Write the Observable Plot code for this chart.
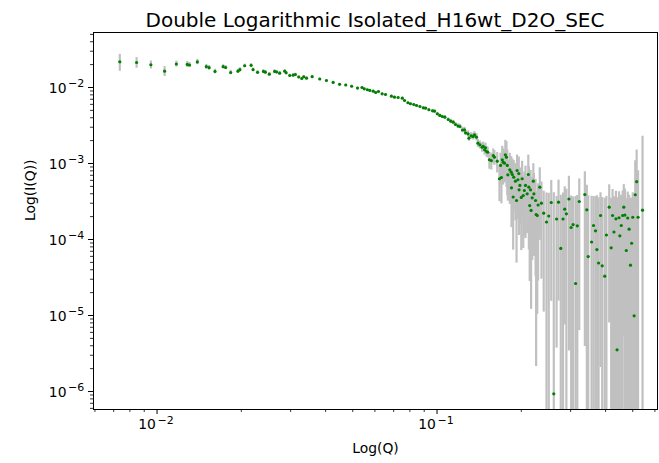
<!DOCTYPE html>
<html><head><meta charset="utf-8">
<script src="https://cdn.jsdelivr.net/npm/d3@7"></script>
<script src="https://cdn.jsdelivr.net/npm/@observablehq/plot@0.6"></script>
<style>
body{margin:0;background:#fff;}
#wrap{position:relative;width:659px;height:463px;font-family:"DejaVu Sans";}
#title{position:absolute;left:93px;width:564px;top:8px;text-align:center;font-size:20px;line-height:24px;color:#000;white-space:nowrap;}
#wrap svg{position:absolute;left:0;top:0;}
</style></head><body>
<div id="wrap"><div id="title"></div></div>
<script>
const titleText = "Double Logarithmic Isolated_H16wt_D2O_SEC";
const xLabel = "Log(Q)";
const yLabel = "Log(I(Q))";

// log10(Q) of each point
const logQ = [
-2.133,-2.073,-2.022,-1.973,-1.931,-1.892,-1.884,-1.856,-1.824,-1.814,
-1.793,-1.764,-1.755,-1.737,-1.711,-1.704,-1.687,-1.664,-1.657,-1.641,
-1.620,-1.613,-1.599,-1.580,-1.573,-1.562,-1.544,-1.539,-1.526,-1.514,
-1.506,-1.494,-1.483,-1.476,-1.466,-1.446,-1.419,-1.395,-1.371,-1.348,
-1.326,-1.305,-1.284,-1.268,-1.260,-1.249,-1.240,-1.228,-1.219,-1.209,
-1.196,-1.184,-1.163,-1.152,-1.139,-1.124,-1.116,-1.104,-1.095,-1.083,
-1.073,-1.061,-1.049,-1.041,-1.029,-1.016,-1.009,-0.999,-0.990,-0.981,
-0.972,-0.960,-0.951,-0.942,-0.934,-0.925,-0.918,-0.909,-0.902,-0.898,
-0.889,-0.886,-0.878,-0.871,-0.866,-0.859,-0.854,-0.847,-0.839,-0.835,
-0.830,-0.827,-0.823,-0.819,-0.813,-0.806,-0.799,-0.795,-0.785,-0.777,
-0.773,-0.770,-0.767,-0.764,-0.759,-0.756,-0.752,-0.749,-0.747,-0.740,
-0.735,-0.734,-0.731,-0.728,-0.726,-0.720,-0.716,-0.714,-0.711,-0.708,
-0.707,-0.704,-0.699,-0.696,-0.692,-0.688,-0.684,-0.678,-0.674,-0.672,
-0.669,-0.666,-0.664,-0.660,-0.656,-0.654,-0.648,-0.646,-0.642,-0.639,
-0.633,-0.627,-0.619,-0.609,-0.601,-0.592,-0.583,-0.573,-0.566,-0.558,
-0.550,-0.544,-0.538,-0.529,-0.521,-0.514,-0.505,-0.499,-0.492,-0.472,
-0.465,-0.460,-0.448,-0.441,-0.434,-0.429,-0.423,-0.416,-0.410,-0.401,
-0.395,-0.385,-0.378,-0.373,-0.368,-0.361,-0.357,-0.350,-0.347,-0.342,
-0.337,-0.333,-0.329,-0.324,-0.319,-0.314,-0.309,-0.305,-0.301,-0.296,
-0.292,-0.287,-0.282,-0.266];

// log10(I) of each point
const logI = [
-1.662,-1.671,-1.701,-1.786,-1.691,-1.697,-1.704,-1.664,-1.726,-1.739,
-1.789,-1.726,-1.737,-1.803,-1.786,-1.766,-1.714,-1.708,-1.766,-1.800,
-1.789,-1.799,-1.825,-1.789,-1.796,-1.812,-1.786,-1.807,-1.842,-1.838,
-1.829,-1.862,-1.882,-1.859,-1.878,-1.858,-1.888,-1.908,-1.934,-1.958,
-1.967,-1.984,-2.008,-2.000,-2.017,-2.030,-2.039,-2.049,-2.066,-2.053,
-2.083,-2.092,-2.114,-2.128,-2.132,-2.141,-2.171,-2.201,-2.214,-2.224,
-2.237,-2.250,-2.267,-2.272,-2.293,-2.307,-2.312,-2.346,-2.368,-2.382,
-2.391,-2.421,-2.443,-2.457,-2.487,-2.507,-2.513,-2.559,-2.557,-2.596,
-2.609,-2.667,-2.636,-2.645,-2.622,-2.654,-2.733,-2.754,-2.786,-2.776,
-2.820,-2.793,-2.842,-2.851,-2.951,-2.961,-2.895,-2.917,-2.970,-3.201,
-3.026,-3.184,-2.951,-2.983,-2.996,-2.886,-2.917,-3.026,-3.149,-3.083,
-3.114,-3.320,-3.145,-3.441,-3.180,-3.233,-3.487,-3.092,-3.214,-3.132,
-3.346,-3.289,-3.447,-3.201,-3.421,-3.355,-3.289,-3.399,-3.145,-3.312,
-3.553,-3.346,-3.618,-3.451,-3.233,-3.399,-3.487,-3.671,-3.684,-3.546,
-3.312,-3.522,-3.654,-3.770,-3.691,-3.513,-6.030,-3.730,-3.509,-4.118,
-3.730,-3.601,-3.662,-3.467,-3.842,-3.803,-4.579,-3.820,-3.500,-3.408,
-3.609,-4.224,-4.033,-3.816,-3.886,-4.132,-4.309,-3.684,-4.346,-4.483,
-3.941,-3.575,-4.109,-3.684,-3.901,-3.728,-5.451,-3.714,-3.951,-3.816,
-3.684,-3.575,-3.678,-4.145,-3.717,-3.864,-4.338,-4.049,-3.707,-5.004,
-3.411,-3.239,-3.707,-3.614];

// error sigma relative to I
const relErr = [
0.25,0.16,0.12,0.15,0.09,0.09,0.08,0.08,0.07,0.07,
0.07,0.06,0.06,0.07,0.06,0.06,0.05,0.05,0.05,0.05,
0.05,0.05,0.05,0.05,0.05,0.05,0.04,0.04,0.04,0.04,
0.04,0.04,0.04,0.04,0.04,0.03,0.03,0.03,0.03,0.03,
0.03,0.03,0.03,0.03,0.03,0.03,0.03,0.03,0.03,0.03,
0.03,0.03,0.03,0.03,0.03,0.03,0.03,0.03,0.03,0.03,
0.03,0.03,0.03,0.03,0.04,0.04,0.04,0.04,0.04,0.04,
0.05,0.05,0.06,0.06,0.06,0.07,0.07,0.08,0.08,0.08,
0.09,0.09,0.10,0.10,0.10,0.11,0.12,0.12,0.14,0.14,
0.15,0.15,0.16,0.16,0.25,0.25,0.22,0.22,0.30,0.50,
0.45,0.55,0.50,0.50,0.45,0.55,0.60,0.60,0.55,0.65,
0.60,0.70,0.60,0.80,0.65,0.70,0.85,0.60,0.70,0.65,
0.75,0.70,0.80,0.70,0.80,0.75,0.80,0.70,0.80,0.85,
0.90,0.80,0.95,0.85,0.70,0.85,0.90,0.99,0.95,0.90,
0.80,0.90,0.95,1.4,1.0,0.95,440,0.98,0.95,4.0,
1.2,0.97,1.1,0.99,1.6,1.3,13,1.5,0.98,0.99,
1.1,5.3,3.0,1.4,1.8,4.1,6.2,0.99,6.9,9.6,
2.2,0.97,3.5,1.2,1.9,1.3,99,1.2,2.3,1.5,
1.1,0.98,1.2,3.8,1.2,1.8,6.6,2.9,1.1,35,
1.8,1.6,3.1,8.4];

const xMajor = [0.01, 0.1];
const xExp = ["\u22122", "\u22121"];
const yMajor = [1e-2, 1e-3, 1e-4, 1e-5, 1e-6];
const yExp = ["\u22122", "\u22123", "\u22124", "\u22125", "\u22126"];
const xDomain = [0.00593, 0.613];
const yDomain = [5.8e-7, 0.0529];

const data = logQ.map((lq, i) => {
  const q = Math.pow(10, lq), I = Math.pow(10, logI[i]), s = relErr[i] * I;
  return {q, I, hi: I + s, lo: I - s > 0 ? I - s : 1e-12};
});

function minorTicks(e0, e1, dom) {
  const out = [];
  for (let e = e0; e <= e1; e++) for (let k = 2; k <= 9; k++) {
    const v = k * Math.pow(10, e);
    if (v >= dom[0] && v <= dom[1]) out.push(v);
  }
  return out;
}
const xMinor = minorTicks(-3, -1, xDomain);
const yMinor = minorTicks(-7, -2, yDomain);

document.getElementById("title").textContent = titleText;

const chart = Plot.plot({
  width: 659, height: 463,
  marginLeft: 93, marginRight: 2, marginTop: 32, marginBottom: 54,
  style: {fontFamily: "DejaVu Sans", fontSize: "13.9px", background: "transparent", color: "black"},
  x: {type: "log", domain: xDomain},
  y: {type: "log", domain: yDomain},
  marks: [
    Plot.ruleX(data, {x: "q", y1: "lo", y2: "hi", stroke: "#c0c0c0", strokeWidth: 2.2, clip: true}),
    Plot.dot(data, {x: "q", y: "I", r: 1.6, fill: "#008000", stroke: null, clip: true}),
    Plot.frame({stroke: "black", strokeWidth: 1}),
    Plot.axisX(xMinor, {tickSize: 3, tickFormat: () => "", label: null, strokeWidth: 0.8}),
    Plot.axisX(xMajor, {tickSize: 5, tickFormat: () => "", label: null}),
    Plot.axisY(yMinor, {tickSize: 3, tickFormat: () => "", label: null, strokeWidth: 0.8}),
    Plot.axisY(yMajor, {tickSize: 5, tickFormat: () => "", label: null}),
    Plot.text(xMajor, {x: d => d, frameAnchor: "bottom", dy: 19.5, dx: -10, text: () => "10", fontSize: 13.9}),
    Plot.text(xMajor, {x: d => d, frameAnchor: "bottom", dy: 14, dx: 0.5, textAnchor: "start", text: (d, i) => xExp[i], fontSize: 11}),
    Plot.text(yMajor, {y: d => d, frameAnchor: "left", dx: -27, dy: 1, textAnchor: "end", text: () => "10", fontSize: 13.9}),
    Plot.text(yMajor, {y: d => d, frameAnchor: "left", dx: -25.5, dy: -4.5, textAnchor: "start", text: (d, i) => yExp[i], fontSize: 11}),
    Plot.text([xLabel], {frameAnchor: "bottom", dy: 43, text: d => d, fontSize: 13.9}),
    Plot.text([yLabel], {frameAnchor: "left", dx: -63, rotate: -90, text: d => d, fontSize: 13.9})
  ]
});
document.getElementById("wrap").appendChild(chart);
</script>
</body></html>
